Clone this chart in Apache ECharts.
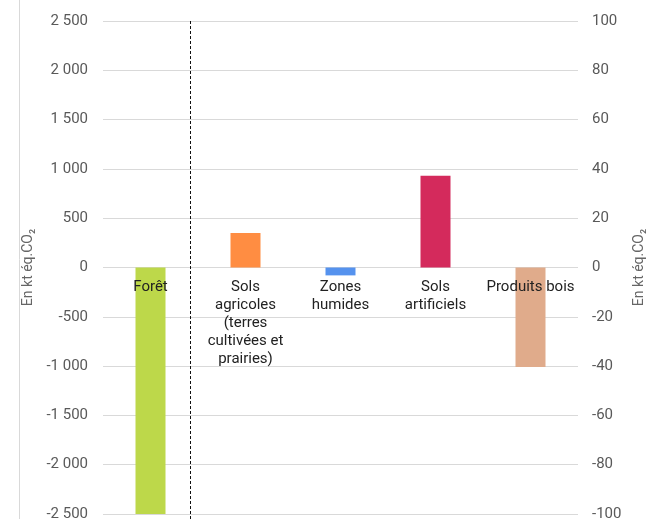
<!DOCTYPE html>
<html><head><meta charset="utf-8">
<script src="https://cdn.jsdelivr.net/npm/echarts@6/dist/echarts.min.js"></script>
<style>html,body{margin:0;padding:0;background:#fff}#c{width:646px;height:519px}</style>
</head><body><div id="c"></div>
<script>
const categories = ["Forêt", "Sols\nagricoles\n(terres\ncultivées et\nprairies)", "Zones\nhumides", "Sols\nartificiels", "Produits bois"];
const values = [-2500, 350, -80, 930, -1010];
const barColors = ["#bdd84a", "#ff8d42", "#5592ee", "#d42a5c", "#e0ab8b"];
const leftTicks = {min: -2500, max: 2500, interval: 500};
const rightTicks = {min: -100, max: 100, interval: 20};
const axisTitle = "En kt éq.CO₂";

const chart = echarts.init(document.getElementById('c'), null, {renderer: 'canvas'});
const fmt = v => {
  const s = Math.abs(v).toString().replace(/\B(?=(\d{3})+(?!\d))/g, ' ');
  return (v < 0 ? '-' : '') + s;
};
const option = {
  animation: false,
  grid: {left: 103, right: 68, top: 21, bottom: 5, containLabel: false, outerBoundsMode: 'none'},
  xAxis: {
    type: 'category', data: categories, z: 10, position: 'bottom', offset: 0,
    axisLine: {show: false, onZero: false},
    axisTick: {show: false},
    axisLabel: {color: '#222', fontFamily: 'Roboto', fontSize: 15, lineHeight: 18, margin: 11, interval: 0}
  },
  yAxis: [
    {type: 'value', min: leftTicks.min, max: leftTicks.max, interval: leftTicks.interval,
     name: axisTitle, nameLocation: 'middle', nameGap: 59, nameRotate: 90,
     nameTextStyle: {color: '#666', fontFamily: 'Roboto', fontSize: 14},
     axisLine: {show: false}, axisTick: {show: false},
     axisLabel: {color: '#595959', fontFamily: 'Roboto', fontSize: 15, margin: 15, formatter: fmt},
     splitLine: {lineStyle: {color: '#d9d9d9', width: 1}}},
    {type: 'value', min: rightTicks.min, max: rightTicks.max, interval: rightTicks.interval, position: 'right',
     name: axisTitle, nameLocation: 'middle', nameGap: 52, nameRotate: 90,
     nameTextStyle: {color: '#666', fontFamily: 'Roboto', fontSize: 14},
     axisLine: {show: false}, axisTick: {show: false},
     axisLabel: {color: '#595959', fontFamily: 'Roboto', fontSize: 15, margin: 14},
     splitLine: {show: false}}
  ],
  series: [{
    type: 'bar', barWidth: 30, yAxisIndex: 0,
    data: values.map((v, i) => ({value: v, itemStyle: {color: barColors[i]}}))
  }]
};
chart.setOption(option);
const zeroY = chart.convertToPixel({yAxisIndex: 0}, 0);
const bottomY = chart.convertToPixel({yAxisIndex: 0}, leftTicks.min);
chart.setOption({xAxis: {offset: zeroY - bottomY}});
const p0 = chart.convertToPixel({xAxisIndex: 0}, 0);
const p1 = chart.convertToPixel({xAxisIndex: 0}, 1);
const xDash = Math.round(p0 + (p1 - p0) * 0.42) + 0.5;
const yTop = chart.convertToPixel({yAxisIndex: 0}, leftTicks.max);
chart.setOption({
  graphic: [
    {type: 'line', shape: {x1: xDash, y1: yTop, x2: xDash, y2: 519}, style: {stroke: '#111', lineWidth: 1, lineDash: [3, 2]}, z: 20},
    {type: 'line', shape: {x1: 19.5, y1: 0, x2: 19.5, y2: 519}, style: {stroke: '#d9d9d9', lineWidth: 1}}
  ]
});
</script></body></html>
